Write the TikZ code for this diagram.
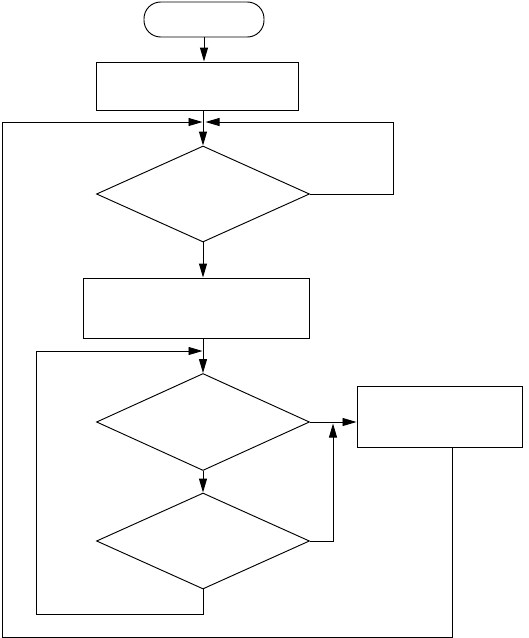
\documentclass[tikz,border=0pt]{standalone}
\usetikzlibrary{arrows.meta, positioning, shapes.geometric}

\begin{document}
\begin{tikzpicture}[x=0.03cm, y=-0.03cm, line width=0.8pt,
  >={Triangle[length=0.42cm, width=0.24cm]},
  term/.style={draw, rectangle, rounded corners=0.5cm, minimum width=3.6cm,
    minimum height=1.05cm, inner sep=0pt},
  procbox/.style={draw, rectangle, inner sep=0pt},
  decision/.style={draw, diamond, minimum width=6.39cm, minimum height=2.88cm,
    inner sep=0pt}]

% Canvas (pixel grid, y downwards)
\useasboundingbox (0,0) rectangle (529,638);

% Nodes
\node[term] (start) at (204,19.5) {};
\node[procbox, minimum width=6.06cm, minimum height=1.44cm] (init) at (197,86) {};
\node[decision] (test1) at (203,194) {};
\node[procbox, minimum width=6.78cm, minimum height=1.8cm] (setup) at (196,308) {};
\node[decision, minimum height=2.91cm] (test2) at (203,422) {};
\node[decision] (test3) at (203,541) {};
\node[procbox, minimum width=4.95cm, minimum height=1.83cm] (action) at (439.5,416.5) {};

% Join points
\coordinate (joinL) at (202.5,122);
\coordinate (joinR) at (205.5,122);
\coordinate (join2) at (202.5,351);
\coordinate (merge3) at (333,423.5);
\coordinate (outexit) at (452,447);

% Main flow
\draw[->] (start.south) -- (start.south |- init.north);
\draw[->] (init.south -| test1.north) -- (test1.north);
\draw[->] (test1.south) -- (test1.south |- setup.north);
\draw[->] (setup.south -| test2.north) -- (test2.north);
\draw[->] (test2.south) -- (test3.north);
\draw[->] (test2.east) -- (test2.east -| action.west);

% Loops
\draw[->] (test1.east) -- ++(83,0) |- (joinR);
\draw[->] (test3.east) -| (merge3);
\draw[->] (test3.south) |- (36,614) |- (join2);
\draw[->] (outexit) |- (2,637) |- (joinL);

\end{tikzpicture}
\end{document}
